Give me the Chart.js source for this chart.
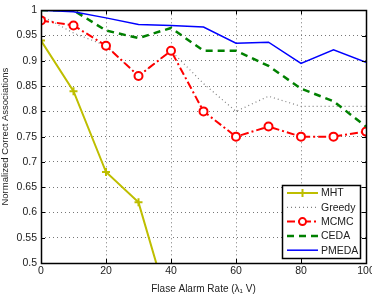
<!DOCTYPE html>
<html>
<head>
<meta charset="utf-8">
<script src="https://cdn.jsdelivr.net/npm/chart.js@4"></script>
<style>
  html, body { margin: 0; padding: 0; background: #fff; }
  #wrap { width: 372px; height: 295px; }
</style>
</head>
<body>
<div id="wrap"><canvas id="myChart" width="372" height="295"></canvas></div>
<script>
// false alarm rate on x, normalized correct associations on y
const rates  = [0, 10, 20, 30, 40, 50, 60, 70, 80, 90, 100];
const mht    = [0.94, 0.84, 0.68, 0.62, 0.40];
const greedy = [0.99, 0.955, 0.93, 0.87, 0.92, 0.855, 0.80, 0.83, 0.81, 0.81, 0.81];
const mcmc   = [0.98, 0.97, 0.93, 0.87, 0.92, 0.80, 0.75, 0.77, 0.75, 0.75, 0.76];
const ceda   = [1.0, 1.0, 0.96, 0.945, 0.965, 0.92, 0.92, 0.89, 0.845, 0.82, 0.77];
const pmeda  = [1.0, 0.997, 0.985, 0.972, 0.97, 0.967, 0.935, 0.937, 0.895, 0.922, 0.897];
const xTicks = [0, 20, 40, 60, 80, 100];

const FONT = '"Liberation Sans", Arial, sans-serif';
const pts = vals => vals.map((v, i) => ({x: rates[i], y: v}));

const series = [
  {label: 'MHT',    data: pts(mht),    borderColor: 'rgb(190,190,0)', borderWidth: 2,   borderDash: [],          pointStyle: 'cross',  pointRadius: 4, pointBorderWidth: 2, order: 5},
  {label: 'Greedy', data: pts(greedy), borderColor: '#808080',        borderWidth: 1.2, borderDash: [1, 3],      pointRadius: 0, order: 4},
  {label: 'MCMC',   data: pts(mcmc),   borderColor: '#ff0000',        borderWidth: 2,   borderDash: [8, 3, 2, 3], pointStyle: 'circle', pointRadius: 4, pointBorderWidth: 2, order: 3},
  {label: 'CEDA',   data: pts(ceda),   borderColor: '#008000',        borderWidth: 2.5, borderDash: [7, 5],      pointRadius: 0, order: 2},
  {label: 'PMEDA',  data: pts(pmeda),  borderColor: '#0000ff',        borderWidth: 1.5, borderDash: [],          pointRadius: 0, order: 1}
];
series.forEach(s => {
  s.fill = false;
  s.tension = 0;
  s.pointBackgroundColor = '#fff';
  s.pointBorderColor = s.borderColor;
});

// frame, inward ticks and matlab style legend
const matlabBits = {
  id: 'matlabBits',
  afterDraw(chart) {
    const {ctx, chartArea: a, scales} = chart;
    ctx.save();
    ctx.setLineDash([]);
    ctx.strokeStyle = '#000';
    ctx.lineWidth = 1;
    // ticks pointing in
    ctx.beginPath();
    scales.x.ticks.forEach(t => {
      const px = Math.round(scales.x.getPixelForValue(t.value)) + 0.5;
      ctx.moveTo(px, a.bottom); ctx.lineTo(px, a.bottom - 4);
      ctx.moveTo(px, a.top); ctx.lineTo(px, a.top + 4);
    });
    scales.y.ticks.forEach(t => {
      const py = Math.round(scales.y.getPixelForValue(t.value)) + 0.5;
      ctx.moveTo(a.left, py); ctx.lineTo(a.left + 4, py);
      ctx.moveTo(a.right, py); ctx.lineTo(a.right - 4, py);
    });
    ctx.stroke();
    ctx.lineWidth = 1.5;
    ctx.strokeRect(Math.round(a.left) + 0.5, Math.round(a.top) + 0.5, Math.round(a.width), Math.round(a.height));

    // legend box
    const bx = 282, by = 185, bw = 78, bh = 73;
    ctx.fillStyle = '#fff';
    ctx.fillRect(bx, by, bw, bh);
    ctx.lineWidth = 1.5;
    ctx.strokeRect(bx + 0.5, by + 0.5, bw, bh);
    ctx.font = '10.5px ' + FONT;
    ctx.textBaseline = 'middle';
    ctx.textAlign = 'left';
    series.forEach((s, i) => {
      const y = 193 + i * 14.3;
      ctx.strokeStyle = s.borderColor;
      ctx.lineWidth = s.borderWidth;
      ctx.setLineDash(s.borderDash);
      ctx.beginPath();
      ctx.moveTo(287, y); ctx.lineTo(318, y);
      ctx.stroke();
      ctx.setLineDash([]);
      const mx = 302.5;
      if (s.pointStyle === 'cross') {
        ctx.lineWidth = 2;
        ctx.beginPath();
        ctx.moveTo(mx - 4, y); ctx.lineTo(mx + 4, y);
        ctx.moveTo(mx, y - 4); ctx.lineTo(mx, y + 4);
        ctx.stroke();
      } else if (s.pointStyle === 'circle') {
        ctx.lineWidth = 2;
        ctx.fillStyle = '#fff';
        ctx.beginPath();
        ctx.arc(mx, y, 3.5, 0, Math.PI * 2);
        ctx.fill();
        ctx.stroke();
      }
      ctx.fillStyle = '#222';
      ctx.fillText(s.label, 321, y + 0.5);
    });
    ctx.restore();
  }
};

const ctx = document.getElementById('myChart').getContext('2d');
const chart = new Chart(ctx, {
  type: 'line',
  data: {datasets: series},
  plugins: [matlabBits],
  options: {
    responsive: false,
    animation: false,
    layout: {padding: {top: 10, right: 0, left: 0, bottom: 0}},
    plugins: {legend: {display: false}, tooltip: {enabled: false}},
    scales: {
      x: {
        type: 'linear', min: 0, max: 100,
        afterBuildTicks: s => { s.ticks = xTicks.map(v => ({value: v})); },
        afterFit: s => { s.height = 32; s.paddingRight = 6; },
        ticks: {color: '#222', font: {family: FONT, size: 10.5}, padding: 2, maxRotation: 0},
        grid: {color: '#777', lineWidth: 1, drawTicks: false},
        border: {display: false, dash: [1, 3]},
        title: {display: true, text: 'Flase Alarm Rate (λ₁ V)', color: '#222', font: {family: FONT, size: 10}, padding: {top: 1, bottom: 0}}
      },
      y: {
        min: 0.5, max: 1,
        ticks: {
          stepSize: 0.05, color: '#222', font: {family: FONT, size: 10.5}, padding: 4,
          callback: v => String(Number(v.toFixed(2)))
        },
        afterFit: s => { s.width = 41; },
        grid: {color: '#777', lineWidth: 1, drawTicks: false},
        border: {display: false, dash: [1, 3]},
        title: {display: true, text: 'Normalized Correct Associations', color: '#222', font: {family: FONT, size: 9.5}, padding: {top: 0, bottom: 2}}
      }
    }
  }
});
</script>
</body>
</html>
